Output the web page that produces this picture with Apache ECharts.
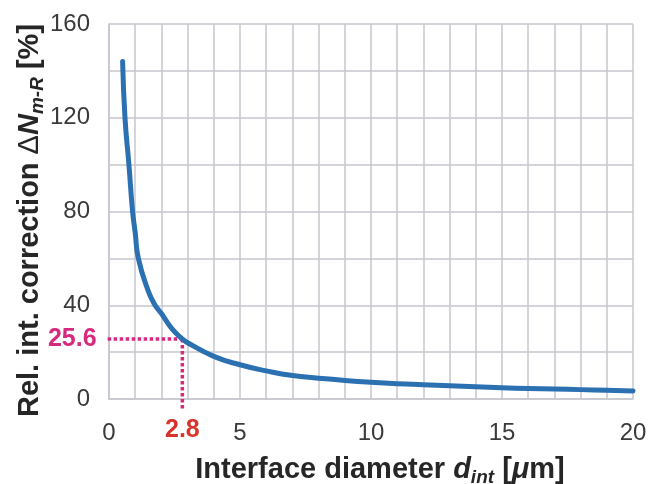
<!DOCTYPE html>
<html>
<head>
<meta charset="utf-8">
<script src="https://cdn.jsdelivr.net/npm/echarts@6/dist/echarts.min.js"></script>
<style>
  html, body { margin: 0; padding: 0; background: #fff; }
  #chart { width: 659px; height: 484px; }
</style>
</head>
<body>
<div id="chart"></div>
<script>
// Interface diameter d_int [µm] and relative interface correction ΔN_m-R [%]
const dint = [0.52, 0.61, 0.76, 0.9, 1, 1.12, 1.5, 1.76, 2, 2.4, 2.8, 3, 4, 5, 6, 7, 8, 9, 10, 11, 12, 13, 14, 15, 16, 17, 18, 19, 20];
const dN   = [144, 120, 100, 80, 71, 60, 46, 40, 36.5, 30, 25.6, 24, 18.2, 14.6, 12, 10, 8.9, 7.9, 7.1, 6.5, 6.1, 5.7, 5.2, 4.8, 4.5, 4.3, 4.0, 3.7, 3.4];

// Highlighted reading on the curve
const markX = 2.8;
const markY = 25.6;
// Where the guide lines stop outside the plot area (data units)
const guideLeftX = -0.28;
const guideBottomY = -4.1;

const xTicks = [0, 5, 10, 15, 20];
const yTicks = [0, 40, 80, 120, 160];

const FONT = "'Liberation Sans', Arial, sans-serif";
const GRID_COLOR = '#c6c6ce';
const GUIDE_COLOR = '#d62a7e';
const TITLE_COLOR = '#262626';

const chart = echarts.init(document.getElementById('chart'), null, { renderer: 'canvas' });

const curve = dint.map((x, i) => [x, dN[i]]);

const titleRich = {
  b:   { fontSize: 29, fontWeight: 'bold', fontFamily: FONT, color: TITLE_COLOR, lineHeight: 34 },
  d:   { fontSize: 29, fontFamily: FONT, color: TITLE_COLOR, lineHeight: 34 },
  bi:  { fontSize: 29, fontWeight: 'bold', fontStyle: 'italic', fontFamily: FONT, color: TITLE_COLOR, lineHeight: 34 },
  sub: { fontSize: 19, fontWeight: 'bold', fontStyle: 'italic', fontFamily: FONT, color: TITLE_COLOR, lineHeight: 28, verticalAlign: 'bottom' }
};

const option = {
  backgroundColor: '#ffffff',
  animation: false,
  grid: { left: 109, right: 26, top: 24, bottom: 85, containLabel: false, outerBoundsMode: 'none' },
  xAxis: {
    type: 'value',
    min: xTicks[0], max: xTicks[xTicks.length - 1], interval: 5,
    axisLine: { show: true, lineStyle: { color: GRID_COLOR, width: 1.5 } },
    axisTick: { show: false },
    axisLabel: { color: '#3a3a3a', fontSize: 24, fontFamily: FONT, margin: 22 },
    splitLine: { show: true, lineStyle: { color: GRID_COLOR, width: 1.5 } },
    minorTick: { show: false, splitNumber: 5 },
    minorSplitLine: { show: true, lineStyle: { color: GRID_COLOR, width: 1.5 } },
    name: '{b|Interface diameter }{bi|d}{sub|int}{b| [}{bi|μ}{b|m]}',
    nameLocation: 'middle',
    nameGap: 54,
    nameTextStyle: { padding: [0, 0, 0, 18], rich: titleRich }
  },
  yAxis: {
    type: 'value',
    min: yTicks[0], max: yTicks[yTicks.length - 1], interval: 40,
    axisLine: { show: true, lineStyle: { color: GRID_COLOR, width: 1.5 } },
    axisTick: { show: false },
    axisLabel: { color: '#3a3a3a', fontSize: 24, fontFamily: FONT, margin: 19 },
    splitLine: { show: true, lineStyle: { color: GRID_COLOR, width: 1.5 } },
    minorTick: { show: false, splitNumber: 2 },
    minorSplitLine: { show: true, lineStyle: { color: GRID_COLOR, width: 1.5 } },
    name: '{b|Rel. int. correction }{d|Δ}{bi|N}{sub|m-R}{b| [%]}',
    nameLocation: 'middle',
    nameMoveOverlap: false,
    nameGap: 62,
    nameTextStyle: { padding: [0, 18, 0, 0], rich: titleRich }
  },
  series: [
    {
      // horizontal guide from the y axis to the highlighted point
      type: 'line',
      clip: false,
      silent: true,
      symbol: 'circle',
      symbolSize: 0.1,
      itemStyle: { color: 'rgba(0,0,0,0)' },
      lineStyle: { color: GUIDE_COLOR, width: 3.5, type: [3.5, 2.5], cap: 'butt' },
      data: [
        {
          value: [guideLeftX, markY],
          label: {
            show: true, position: 'left', distance: 5,
            formatter: p => String(p.value[1]),
            color: GUIDE_COLOR, fontSize: 25, fontWeight: 'bold', fontFamily: FONT
          }
        },
        [markX, markY]
      ],
      z: 2
    },
    {
      // vertical guide from the highlighted point down past the x axis
      type: 'line',
      clip: false,
      silent: true,
      symbol: 'circle',
      symbolSize: 0.1,
      itemStyle: { color: 'rgba(0,0,0,0)' },
      lineStyle: { color: GUIDE_COLOR, width: 3.5, type: [3.5, 2.5], cap: 'butt' },
      data: [
        [markX, markY],
        {
          value: [markX, guideBottomY],
          label: {
            show: true, position: 'bottom', distance: 9,
            formatter: p => String(p.value[0]),
            color: '#d9342b', fontSize: 25, fontWeight: 'bold', fontFamily: FONT
          }
        }
      ],
      z: 2
    },
    {
      type: 'line',
      data: curve,
      showSymbol: false,
      symbol: 'none',
      smooth: 0.5,
      lineStyle: { color: '#2b70b0', width: 5, cap: 'round', join: 'round' },
      z: 3
    }
  ]
};

chart.setOption(option);
</script>
</body>
</html>
